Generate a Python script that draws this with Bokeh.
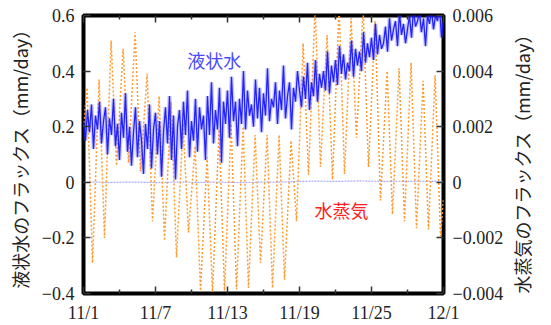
from bokeh.plotting import figure
from bokeh.models import Range1d, LinearAxis, FixedTicker, Label
from bokeh.embed import file_html
from bokeh.resources import INLINE
import math

# ---------------- data ----------------
n_days = 30
date_ticks = [0, 6, 12, 18, 24, 30]
date_labels = ["11/1", "11/7", "11/13", "11/19", "11/25", "12/1"]
date_minor_ticks = [3, 9, 15, 21, 27]

left_ticks = [-0.4, -0.2, 0.0, 0.2, 0.4, 0.6]
left_labels = ["−0.4", "−0.2", "0", "0.2", "0.4", "0.6"]
right_ticks = [-0.004, -0.002, 0.0, 0.002, 0.004, 0.006]
right_labels = ["−0.004", "−0.002", "0", "0.002", "0.004", "0.006"]

# liquid water flux (mm/day), 6 samples per day
liquid_per_day = 6
liquid_flux = [
    0.22, 0.15, 0.26, 0.18, 0.28, 0.12,
    0.24, 0.19, 0.29, 0.14, 0.22, 0.27,
    0.10, 0.23, 0.17, 0.30, 0.13, 0.21,
    0.08, 0.25, 0.16, 0.32, 0.11, 0.20,
    0.06, 0.18, 0.27, 0.09, 0.22, 0.15,
    0.03, 0.21, 0.12, 0.28, 0.05, 0.19,
    0.25, 0.10, 0.22, 0.02, 0.18, 0.27,
    0.14, 0.31, 0.08, 0.24, 0.01, 0.20,
    0.26, 0.12, 0.29, 0.17, 0.33, 0.09,
    0.22, 0.15, 0.30, 0.11, 0.27, 0.19,
    0.24, 0.08, 0.31, 0.17, 0.36, 0.14,
    0.26, 0.19, 0.34, 0.07, 0.29, 0.21,
    0.33, 0.16, 0.38, 0.22, 0.29, 0.13,
    0.30, 0.21, 0.40, 0.19, 0.33, 0.24,
    0.28, 0.20, 0.37, 0.23, 0.34, 0.18,
    0.32, 0.24, 0.41, 0.22, 0.30, 0.27,
    0.36, 0.21, 0.33, 0.26, 0.42, 0.23,
    0.31, 0.36, 0.19, 0.34, 0.29, 0.40,
    0.33, 0.27, 0.38, 0.30, 0.43, 0.26,
    0.36, 0.31, 0.44, 0.29, 0.39, 0.34,
    0.40, 0.33, 0.47, 0.32, 0.42, 0.36,
    0.44, 0.35, 0.49, 0.39, 0.46, 0.37,
    0.43, 0.40, 0.51, 0.38, 0.48, 0.42,
    0.47, 0.40, 0.54, 0.43, 0.50, 0.45,
    0.52, 0.44, 0.57, 0.46, 0.53, 0.48,
    0.50, 0.56, 0.47, 0.59, 0.51, 0.55,
    0.58, 0.49, 0.61, 0.53, 0.57, 0.50,
    0.55, 0.60, 0.52, 0.62, 0.56, 0.58,
    0.61, 0.54, 0.59, 0.49, 0.60, 0.57,
    0.62, 0.55, 0.60, 0.58, 0.63, 0.52,
    0.58,
]

# water vapour flux: daily maximum / minimum (x 0.001 mm/day)
vapor_start = 2.0
vapor_peak = [3.4, 3.7, 5.1, 4.8, 5.4, 3.9, 3.1, 2.9, 2.1, 1.3,
              0.9, 1.9, 2.1, 2.0, 1.7, 1.7, 1.7, 1.5, 5.0, 6.3,
              5.3, 6.3, 5.9, 6.3, 5.8, 4.0, 4.1, 4.3, 3.65, 3.85]
vapor_trough = [-2.9, -2.0, 0.6, 0.7, 0.4, -1.4, -2.1, -2.7, -1.8, -3.9,
                -3.95, -3.9, -3.85, -3.8, -2.9, -3.8, -3.5, -1.4, 0.27, 0.55,
                0.1, 0.3, 1.6, 0.55, -0.65, -1.15, -1.4, -1.65, -1.7, -1.95]
vapor_end = -0.6
peak_phase = 0.3
trough_phase = 0.75

# faint reference flux near zero (mm/day), daily
baseline_flux = [0.0, 0.001, -0.001, 0.0, 0.001, 0.0, -0.001, 0.0, 0.001, 0.0,
                 0.0, 0.001, 0.0, -0.001, 0.0, 0.001, 0.0, 0.002, 0.003, 0.004,
                 0.004, 0.003, 0.004, 0.005, 0.004, 0.003, 0.004, 0.003, 0.004, 0.003, 0.003]

# ---------------- build series ----------------
liq_x = [i / liquid_per_day for i in range(len(liquid_flux))]

vap_x = [0.0]
vap_y = [vapor_start * 1e-3]
for d in range(n_days):
    vap_x += [d + peak_phase, d + trough_phase]
    vap_y += [vapor_peak[d] * 1e-3, vapor_trough[d] * 1e-3]
vap_x.append(float(n_days))
vap_y.append(vapor_end * 1e-3)

base_x = list(range(len(baseline_flux)))

# ---------------- figure ----------------
SERIF = "Liberation Serif"
JP = "Noto Sans CJK JP"

p = figure(width=551, height=325, output_backend="svg", toolbar_location=None,
           x_range=Range1d(0, n_days), y_range=Range1d(-0.4, 0.6),
           min_border_left=83, min_border_right=103, min_border_top=15, min_border_bottom=31)
p.extra_y_ranges = {"vapor": Range1d(-0.004, 0.006)}
p.xgrid.visible = False
p.ygrid.visible = False
p.background_fill_color = "white"
p.border_fill_color = "white"
p.outline_line_color = "black"
p.outline_line_width = 4

right_ax = LinearAxis(y_range_name="vapor")
top_ax = LinearAxis()
p.add_layout(right_ax, "right")
p.add_layout(top_ax, "above")
bottom_ax = p.below[0]
left_ax = p.left[0]

xt = FixedTicker(ticks=date_ticks, minor_ticks=date_minor_ticks)
bottom_ax.ticker = xt
top_ax.ticker = xt
bottom_ax.major_label_overrides = {t: l for t, l in zip(date_ticks, date_labels)}
top_ax.major_label_overrides = {t: "" for t in date_ticks}

left_ax.ticker = FixedTicker(ticks=left_ticks, minor_ticks=[])
left_ax.major_label_overrides = {t: l for t, l in zip(left_ticks, left_labels)}
right_ax.ticker = FixedTicker(ticks=right_ticks, minor_ticks=[])
right_ax.major_label_overrides = {t: l for t, l in zip(right_ticks, right_labels)}

for ax in (bottom_ax, top_ax, left_ax, right_ax):
    ax.axis_line_color = None
    ax.major_tick_in = 7
    ax.major_tick_out = 0
    ax.minor_tick_in = 4
    ax.minor_tick_out = 0
    ax.major_tick_line_color = "#333333"
    ax.minor_tick_line_color = "#333333"
    ax.major_tick_line_width = 1.5
    ax.minor_tick_line_width = 1.5
    ax.major_label_text_font = SERIF
    ax.major_label_text_font_size = "18px"
    ax.major_label_text_color = "#222222"
    ax.major_label_standoff = 9
top_ax.major_label_standoff = 0

for ax, title in ((left_ax, "液状水のフラックス（mm/day）"),
                  (right_ax, "水蒸気のフラックス（mm/day）")):
    ax.axis_label = title
    ax.axis_label_text_font = JP
    ax.axis_label_text_font_style = "normal"
    ax.axis_label_text_font_size = "18px"
    ax.axis_label_text_color = "#222222"
    ax.axis_label_standoff = 6
right_ax.axis_label_orientation = math.pi / 2
right_ax.axis_label_align = "start"
right_ax.axis_label_standoff = 16

# ---------------- glyphs ----------------
p.line(base_x, baseline_flux, line_color="#a8a8ff", line_width=1.2, line_dash="2 1")
p.line(vap_x, vap_y, y_range_name="vapor", line_color="#ff9a2e", line_width=1.5,
       line_dash="2 2")
p.line(liq_x, liquid_flux, line_color="#6a6aff", line_width=4, line_alpha=0.35)
p.line(liq_x, liquid_flux, line_color="#1010ff", line_width=1.3, line_alpha=0.9)

p.add_layout(Label(x=10.9, y=0.44, text="液状水", text_font=JP, text_font_size="18px",
                   text_color="#4a4aff", text_align="center", text_baseline="middle"))
p.add_layout(Label(x=21.5, y=-0.10, text="水蒸気", text_font=JP, text_font_size="18px",
                   text_color="#ff2020", text_align="center", text_baseline="middle"))

open("out.html", "w").write(file_html(p, INLINE))
